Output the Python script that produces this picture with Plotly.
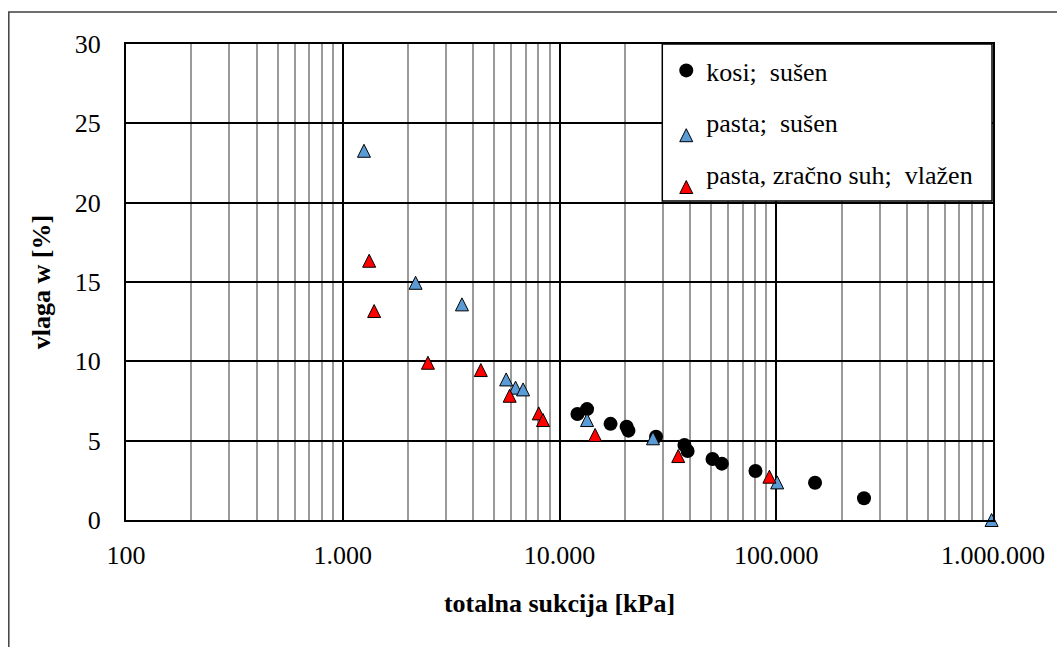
import plotly.graph_objects as go

# Total suction [kPa] and water content w [%] per sample series
kosi_suction = [12100, 13400, 17200, 20400, 20800, 27900, 37700, 39000,
                50800, 56100, 80200, 151000, 254000]
kosi_w = [6.68, 6.99, 6.06, 5.88, 5.63, 5.25, 4.73, 4.35,
          3.84, 3.55, 3.09, 2.35, 1.37]

pasta_suction = [1253, 2168, 3548, 5675, 6270, 6792, 13400, 27000, 101000, 985000]
pasta_w = [23.27, 14.95, 13.59, 8.86, 8.34, 8.23, 6.30, 5.15, 2.37, 0.0]

pasta_zs_suction = [1324, 1396, 2472, 4335, 5890, 8020, 8395, 14600, 35300, 93000]
pasta_zs_w = [16.34, 13.17, 9.91, 9.45, 7.83, 6.72, 6.30, 5.36, 4.03, 2.73]

series_names = ["kosi;\u00a0 sušen", "pasta;\u00a0 sušen", "pasta, zračno suh;\u00a0 vlažen"]

x_tickvals = [100, 1000, 10000, 100000, 1000000]
x_ticktext = ["100", "1.000", "10.000", "100.000", "1.000.000"]
x_minor = [m * 10 ** k for k in range(2, 6) for m in range(2, 10)]

FONT = "Times New Roman, Liberation Serif, Tinos, DejaVu Serif, serif"
FS = 26
TRI = 13  # triangle marker size (px)

# upward triangle with equal width and height, centred on the data point:
# an arrow-down glyph turned 180 degrees and pushed back by half its height
tri_marker = dict(symbol="arrow-down", angle=180, size=TRI, standoff=TRI / 2,
                  line=dict(width=1, color="black"))

fig = go.Figure()

fig.add_trace(go.Scatter(
    x=kosi_suction, y=kosi_w, mode="markers", name=series_names[0],
    legendgroup="a",
    marker=dict(symbol="circle", size=14, color="black", line=dict(width=0)),
    cliponaxis=False,
))
fig.add_trace(go.Scatter(
    x=pasta_suction, y=pasta_w, mode="markers", name=series_names[1],
    legendgroup="b",
    marker=dict(color="#5b9bd5", **tri_marker),
    cliponaxis=False,
))
fig.add_trace(go.Scatter(
    x=pasta_zs_suction, y=pasta_zs_w, mode="markers", name=series_names[2],
    legendgroup="c",
    marker=dict(color="#ff0000", **tri_marker),
    cliponaxis=False,
))

L, R, T, B = 126, 58, 44, 127
W, H = 1057, 647
pw, ph = W - L - R, H - T - B


def px_x(p):
    return (p - L) / pw


def px_y(p):
    return (H - B - p) / ph


fig.update_layout(
    width=W, height=H,
    margin=dict(l=L, r=R, t=T, b=B, pad=0),
    paper_bgcolor="white", plot_bgcolor="white",
    font=dict(family=FONT, size=FS, color="black"),
    showlegend=True,
    legend=dict(
        x=px_x(670), y=px_y(47), xanchor="left", yanchor="top",
        bgcolor="rgba(0,0,0,0)", borderwidth=0,
        font=dict(family=FONT, size=FS, color="black"),
        tracegroupgap=15, itemwidth=30,
    ),
    shapes=[
        # outer chart frame
        dict(type="rect", xref="paper", yref="paper",
             x0=px_x(8), x1=1.3, y0=-0.5, y1=px_y(12),
             line=dict(color="#404040", width=1.5), fillcolor="rgba(0,0,0,0)",
             layer="below"),
        # legend box
        dict(type="rect", xref="paper", yref="paper",
             x0=px_x(666), x1=px_x(998), y0=px_y(201), y1=px_y(44),
             line=dict(color="black", width=1.5), fillcolor="white",
             layer="above"),
    ],
)

fig.update_xaxes(
    type="log", range=[2, 6],
    tickvals=x_tickvals, ticktext=x_ticktext,
    ticks="outside", ticklen=11, tickcolor="rgba(0,0,0,0)",
    showgrid=True, gridcolor="black", gridwidth=1.5,
    minor=dict(tickvals=x_minor, showgrid=True, gridcolor="#9a9a9a", gridwidth=2, ticks=""),
    showline=True, linecolor="black", linewidth=2, mirror=True,
    tickfont=dict(family=FONT, size=FS),
    title=dict(text="<b>totalna sukcija [kPa]</b>", font=dict(family=FONT, size=FS),
               standoff=25),
    zeroline=False,
)
fig.update_yaxes(
    range=[0, 30], dtick=5, tick0=0,
    ticks="outside", ticklen=18, tickcolor="rgba(0,0,0,0)",
    showgrid=True, gridcolor="black", gridwidth=1.5,
    showline=True, linecolor="black", linewidth=2, mirror=True,
    tickfont=dict(family=FONT, size=FS),
    title=dict(text="<b>vlaga w [%]</b>", font=dict(family=FONT, size=FS),
               standoff=17),
    zeroline=False,
)

fig.write_html("out.html")
